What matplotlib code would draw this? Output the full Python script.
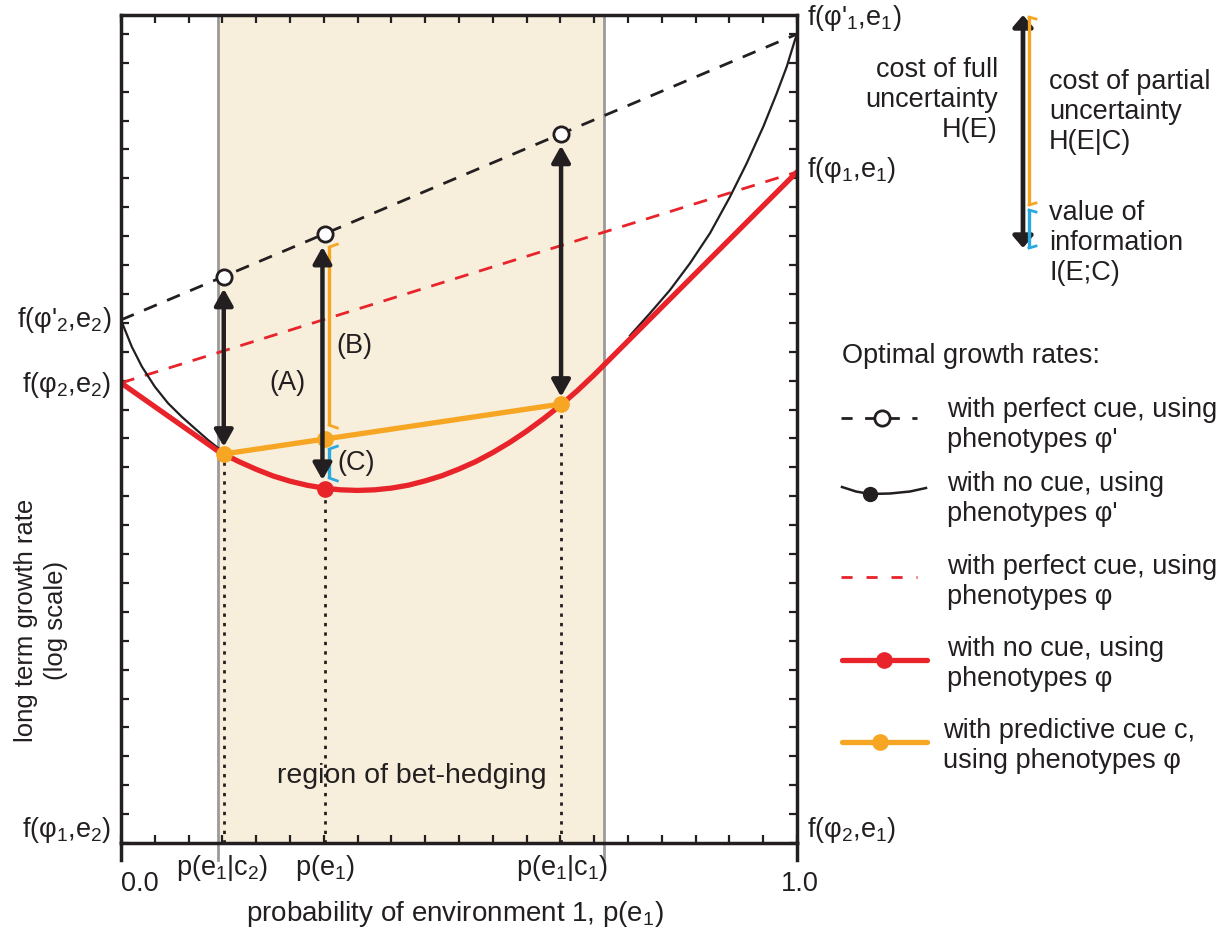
import matplotlib.pyplot as plt
import numpy as np

plt.rcParams['font.family'] = ['Liberation Sans', 'DejaVu Sans']
plt.rcParams['mathtext.fontset'] = 'custom'
plt.rcParams['mathtext.rm'] = 'Liberation Sans'
plt.rcParams['mathtext.it'] = 'Liberation Sans:italic'
plt.rcParams['mathtext.default'] = 'regular'

# probability of environment 1 at the three marked points
p_e1_c2 = 0.152
p_e1 = 0.302
p_e1_c1 = 0.651
p_marks = [p_e1_c2, p_e1, p_e1_c1]
bet_hedge = [0.1435, 0.7145]

# long term growth rate (log scale), in units of y ticks above f(phi1,e2)
perfect_prime_x = [0.0, 1.0]
perfect_prime_y = [18.10, 27.99]
perfect_phi_x = [0.0, 1.0]
perfect_phi_y = [15.92, 23.22]

nocue_phi_x = [0.0, 0.1435, 0.152, 0.175, 0.200, 0.225, 0.250, 0.275, 0.300, 0.325,
               0.350, 0.375, 0.400, 0.425, 0.450, 0.475, 0.500, 0.525, 0.550, 0.575,
               0.600, 0.625, 0.650, 0.675, 0.700, 0.7145, 1.0]
nocue_phi_y = [15.92, 13.56, 13.46, 13.19, 12.93, 12.70, 12.52, 12.38, 12.28, 12.22,
               12.20, 12.22, 12.28, 12.38, 12.53, 12.71, 12.94, 13.20, 13.51, 13.86,
               14.25, 14.68, 15.14, 15.65, 16.20, 16.54, 23.22]

nocue_prime_left_x = [0.0, 0.002, 0.016, 0.031, 0.050, 0.0695, 0.0898, 0.109, 0.129, 0.144]
nocue_prime_left_y = [18.10, 17.98, 17.17, 16.48, 15.79, 15.22, 14.75, 14.35, 13.94, 13.66]
nocue_prime_right_x = [0.753, 0.7825, 0.812, 0.8417, 0.8713, 0.9009, 0.9256, 0.9502,
                       0.970, 0.9848, 0.997, 1.0]
nocue_prime_right_y = [17.56, 18.33, 19.13, 20.06, 21.10, 22.36, 23.52, 24.79,
                       25.94, 26.86, 27.79, 27.99]

cue_y = [13.46, 13.98, 15.19]        # with predictive cue, at p_marks
perfect_y = [19.58, 21.07, 24.53]    # open circles on the perfect cue line
nocue_at_pe1 = 12.25

red = '#e8232a'
orange = '#f6a623'
blue = '#2aa9e0'
dark = '#231f20'
beige = '#f7eedb'

fig = plt.figure(figsize=(12.22, 9.32), dpi=100)
ax = fig.add_axes([121 / 1222, 1 - 843 / 932, 676 / 1222, 828 / 932])
ymax = 828 / 28.9
ax.set_xlim(0, 1)
ax.set_ylim(0, ymax)

ax.axvspan(bet_hedge[0], bet_hedge[1], color=beige, zorder=0, lw=0)
for xb in bet_hedge:
    ax.plot([xb, xb], [-0.6, ymax], color='#9a9a9a', lw=2, zorder=1, clip_on=False)
for xe in [0, 1]:
    ax.plot([xe, xe], [-0.6, 0], color=dark, lw=2.5, zorder=5, clip_on=False)

# dotted drop lines
drop_y = [cue_y[0], nocue_at_pe1, cue_y[2]]
for xp, yp in zip(p_marks, drop_y):
    ax.plot([xp, xp], [0, yp], color=dark, lw=2, ls=(0, (1.2, 2.2)), zorder=2)

ax.plot(perfect_prime_x, perfect_prime_y, color=dark, lw=2, ls=(0, (5, 4)), zorder=3)
ax.plot(perfect_phi_x, perfect_phi_y, color=red, lw=2, ls=(0, (5, 4)), zorder=3)
ax.plot(nocue_prime_left_x, nocue_prime_left_y, color=dark, lw=1.6, zorder=3)
ax.plot(nocue_prime_right_x, nocue_prime_right_y, color=dark, lw=1.6, zorder=3)
ax.plot(nocue_phi_x, nocue_phi_y, color=red, lw=3.8, zorder=4, solid_capstyle='round',
        solid_joinstyle='round')
ax.plot(p_e1, nocue_at_pe1, 'o', color=red, ms=11, zorder=6)
ax.plot(p_marks, cue_y, color=orange, lw=3.8, zorder=5)
ax.plot(p_marks, cue_y, 'o', color=orange, ms=11, zorder=6)
ax.plot(p_marks, perfect_y, 'o', mfc='white', mec=dark, mew=2, ms=11, zorder=6)

# arrows between the curves
gap_top, gap_bot = 0.4, 0.25
aprops = dict(arrowstyle='<|-|>,head_length=0.5,head_width=0.28', lw=3.2, color=dark,
              shrinkA=0, shrinkB=0, mutation_scale=20)
ax.annotate('', xy=(p_e1_c2, cue_y[0] + gap_bot), xytext=(p_e1_c2, perfect_y[0] - gap_top),
            arrowprops=aprops, zorder=7)
ax.annotate('', xy=(p_e1 - 0.004, nocue_at_pe1 + 0.31), xytext=(p_e1 - 0.004, perfect_y[1] - 0.44),
            arrowprops=aprops, zorder=7)
ax.annotate('', xy=(p_e1_c1, cue_y[2] + gap_bot), xytext=(p_e1_c1, perfect_y[2] - gap_top),
            arrowprops=aprops, zorder=7)


def bracket(a, x, y0, y1, color, dx, dy):
    a.plot([x, x], [y0, y1], color=color, lw=2.4, zorder=6, solid_capstyle='butt')
    a.plot([x, x + dx], [y0, y0 - dy], color=color, lw=2, zorder=6)
    a.plot([x, x + dx], [y1, y1 + dy], color=color, lw=2, zorder=6)


bracket(ax, p_e1 + 0.006, cue_y[1] + 0.48, perfect_y[1] - 0.45, orange, 0.012, 0.1)
bracket(ax, p_e1 + 0.006, nocue_at_pe1 + 0.38, cue_y[1] - 0.35, blue, 0.012, 0.1)

for s in ax.spines.values():
    s.set_linewidth(2.5)
    s.set_color(dark)
    s.set_zorder(8)
ax.set_xticks(np.arange(0, 1.0001, 0.05))
ax.set_yticks(np.arange(0, 29, 1))
ax.tick_params(which='both', direction='in', length=6, width=1.6, color=dark,
               top=True, right=True, labelbottom=False, labelleft=False)

# overlay in pixel coordinates for labels and the legend
ov = fig.add_axes([0, 0, 1, 1])
ov.set_xlim(0, 1222)
ov.set_ylim(932, 0)
ov.axis('off')
fs = 19.5
tc = dark

ov.text(287, 383, '(A)', fontsize=fs, color=tc, ha='center', va='center')
ov.text(354, 346, '(B)', fontsize=fs, color=tc, ha='center', va='center')
ov.text(356, 463, '(C)', fontsize=fs, color=tc, ha='center', va='center')
ov.text(412, 776, 'region of bet-hedging', fontsize=20.5, color=tc, ha='center', va='center')

ov.text(111, 320, "f(φ'$_2$,e$_2$)", fontsize=fs, color=tc, ha='right', va='center')
ov.text(111, 385, "f(φ$_2$,e$_2$)", fontsize=fs, color=tc, ha='right', va='center')
ov.text(111, 830, "f(φ$_1$,e$_2$)", fontsize=fs, color=tc, ha='right', va='center')
ov.text(807, 18, "f(φ'$_1$,e$_1$)", fontsize=fs, color=tc, ha='left', va='center')
ov.text(807, 170, "f(φ$_1$,e$_1$)", fontsize=fs, color=tc, ha='left', va='center')
ov.text(807, 830, "f(φ$_2$,e$_1$)", fontsize=fs, color=tc, ha='left', va='center')

ov.text(140, 884, '0.0', fontsize=fs, color=tc, ha='center', va='center')
ov.text(800, 884, '1.0', fontsize=fs, color=tc, ha='center', va='center')
ov.text(222, 868, 'p(e$_1$|c$_2$)', fontsize=fs, color=tc, ha='center', va='center')
ov.text(325, 868, 'p(e$_1$)', fontsize=fs, color=tc, ha='center', va='center')
ov.text(562, 868, 'p(e$_1$|c$_1$)', fontsize=fs, color=tc, ha='center', va='center')
ov.text(455, 914, 'probability of environment 1, p(e$_1$)', fontsize=20, color=tc,
        ha='center', va='center')
ov.text(41, 620, 'long term growth rate\n(log scale)', fontsize=18.5, color=tc, ha='center',
        va='center', rotation=90, linespacing=1.3)

# top right key
ov.annotate('', xy=(1023, 248), xytext=(1023, 15),
            arrowprops=dict(arrowstyle='<|-|>,head_length=0.35,head_width=0.3', lw=3.4,
                            color=dark, shrinkA=0, shrinkB=0, mutation_scale=20))
bracket(ov, 1029, 17, 205, orange, 7, -2)
bracket(ov, 1029, 210, 248, blue, 7, -2)
ov.text(998, 100, 'cost of full\nuncertainty\nH(E)', fontsize=fs, color=tc, ha='right',
        va='center', linespacing=1.2)
ov.text(1049, 112, 'cost of partial\nuncertainty\nH(E|C)', fontsize=fs, color=tc, ha='left',
        va='center', linespacing=1.2)
ov.text(1049, 243, 'value of\ninformation\nI(E;C)', fontsize=fs, color=tc, ha='left',
        va='center', linespacing=1.2)

# legend
ov.text(842, 356, 'Optimal growth rates:', fontsize=fs, color=tc, ha='left', va='center')
ov.plot([841, 917], [418, 418], color=dark, lw=2, ls=(0, (4, 4.5)))
ov.plot(882, 418, 'o', mfc='white', mec=dark, mew=2, ms=11)
leg_curve_x = [842, 856, 870, 890, 910, 926]
leg_curve_y = [487, 491.5, 494, 493.5, 491.5, 488]
ov.plot(leg_curve_x, leg_curve_y, color=dark, lw=1.8)
ov.plot(870, 494, 'o', color=dark, ms=10)
ov.plot([841, 917], [577, 577], color=red, lw=2, ls=(0, (4, 5)))
ov.plot([842, 927], [660, 660], color=red, lw=3.8, solid_capstyle='round')
ov.plot(884, 660, 'o', color=red, ms=11)
ov.plot([842, 927], [742, 742], color=orange, lw=3.8, solid_capstyle='round')
ov.plot(880, 742, 'o', color=orange, ms=11)
ov.text(947, 425, "with perfect cue, using\nphenotypes φ'", fontsize=fs, color=tc, va='center')
ov.text(947, 499, "with no cue, using\nphenotypes φ'", fontsize=fs, color=tc, va='center')
ov.text(947, 582, 'with perfect cue, using\nphenotypes φ', fontsize=fs, color=tc, va='center')
ov.text(947, 664, 'with no cue, using\nphenotypes φ', fontsize=fs, color=tc, va='center')
ov.text(943, 746, 'with predictive cue c,\nusing phenotypes φ', fontsize=fs, color=tc, va='center')

fig.savefig('out.png', dpi=100, facecolor='white')
